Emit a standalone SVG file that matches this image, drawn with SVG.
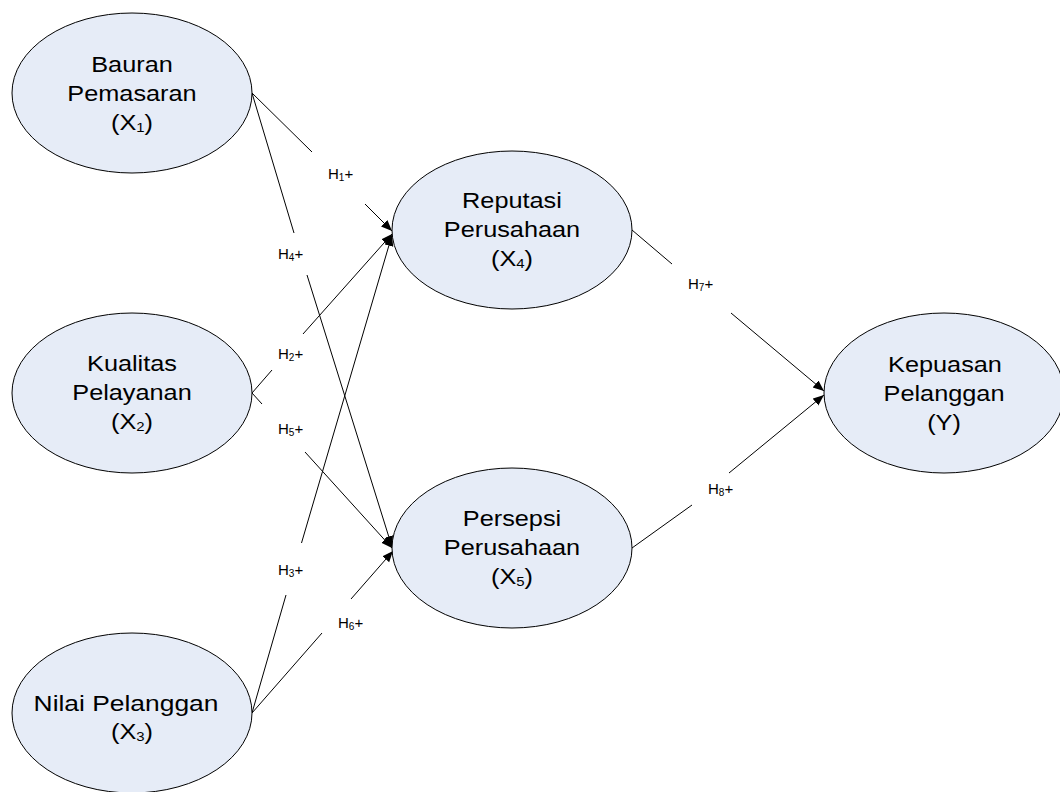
<svg xmlns="http://www.w3.org/2000/svg" width="1060" height="792" viewBox="0 0 1060 792">
<defs>
<style>
.node{fill:#e6ecf7;stroke:#000;stroke-width:1}
.nt{font-family:"Liberation Sans",Arial,sans-serif;font-size:22px;fill:#000;text-anchor:middle}
.lb{font-family:"Liberation Sans",Arial,sans-serif;font-size:15px;fill:#000}
.sub{font-size:13px}
.lsub{font-size:10px}
.conn line{stroke:#000;stroke-width:1;fill:none}
</style>
<marker id="arr" markerUnits="userSpaceOnUse" markerWidth="12" markerHeight="10" refX="11" refY="4.5" orient="auto">
<path d="M0,0 L11,4.5 L0,9 z" fill="#000"/>
</marker>
</defs>
<rect width="1060" height="792" fill="#fff"/>

<g id="connectors" class="conn">
<line x1="252" y1="93" x2="312" y2="152"/>
<line x1="365" y1="204" x2="392" y2="231" marker-end="url(#arr)"/>
<line x1="252" y1="93" x2="294" y2="233"/>
<line x1="307" y1="275" x2="392" y2="547" marker-end="url(#arr)"/>
<line x1="252" y1="393" x2="272" y2="370"/>
<line x1="303" y1="334" x2="392" y2="234" marker-end="url(#arr)"/>
<line x1="252" y1="393" x2="262" y2="404"/>
<line x1="305" y1="452" x2="392" y2="548" marker-end="url(#arr)"/>
<line x1="252" y1="713" x2="286" y2="595"/>
<line x1="301.5" y1="543" x2="392" y2="235" marker-end="url(#arr)"/>
<line x1="252" y1="713" x2="322" y2="633"/>
<line x1="351" y1="599" x2="393" y2="551" marker-end="url(#arr)"/>
<line x1="632" y1="230" x2="672" y2="264"/>
<line x1="731" y1="313" x2="824" y2="391" marker-end="url(#arr)"/>
<line x1="632" y1="548" x2="692" y2="505"/>
<line x1="729" y1="473" x2="824" y2="395" marker-end="url(#arr)"/>
</g>

<g id="labels">
<text class="lb" x="328" y="179">H<tspan class="lsub" dy="2">1</tspan><tspan dy="-2">+</tspan></text>
<text class="lb" x="278" y="259">H<tspan class="lsub" dy="2">4</tspan><tspan dy="-2">+</tspan></text>
<text class="lb" x="278" y="359">H<tspan class="lsub" dy="2">2</tspan><tspan dy="-2">+</tspan></text>
<text class="lb" x="278" y="434">H<tspan class="lsub" dy="2">5</tspan><tspan dy="-2">+</tspan></text>
<text class="lb" x="278" y="575">H<tspan class="lsub" dy="2">3</tspan><tspan dy="-2">+</tspan></text>
<text class="lb" x="338" y="628">H<tspan class="lsub" dy="2">6</tspan><tspan dy="-2">+</tspan></text>
<text class="lb" x="688" y="289">H<tspan class="lsub" dy="2">7</tspan><tspan dy="-2">+</tspan></text>
<text class="lb" x="708" y="494">H<tspan class="lsub" dy="2">8</tspan><tspan dy="-2">+</tspan></text>
</g>

<g id="node-x1">
<ellipse class="node" cx="132" cy="93" rx="120" ry="80"/>
<text class="nt" transform="translate(132,72) scale(1.15,1)">Bauran</text>
<text class="nt" transform="translate(132,101) scale(1.15,1)">Pemasaran</text>
<text class="nt" transform="translate(132,130) scale(1.15,1)">(X<tspan class="sub" dy="2">1</tspan><tspan dy="-2">)</tspan></text>
</g>

<g id="node-x2">
<ellipse class="node" cx="132" cy="393" rx="120" ry="80"/>
<text class="nt" transform="translate(132,371) scale(1.15,1)">Kualitas</text>
<text class="nt" transform="translate(132,400) scale(1.15,1)">Pelayanan</text>
<text class="nt" transform="translate(132,429) scale(1.15,1)">(X<tspan class="sub" dy="2">2</tspan><tspan dy="-2">)</tspan></text>
</g>

<g id="node-x3">
<ellipse class="node" cx="132" cy="713" rx="120" ry="80"/>
<text class="nt" transform="translate(126,711) scale(1.2,1)">Nilai Pelanggan</text>
<text class="nt" transform="translate(132,739) scale(1.15,1)">(X<tspan class="sub" dy="2">3</tspan><tspan dy="-2">)</tspan></text>
</g>

<g id="node-x4">
<ellipse class="node" cx="512" cy="230" rx="120" ry="79"/>
<text class="nt" transform="translate(512,208) scale(1.15,1)">Reputasi</text>
<text class="nt" transform="translate(512,237) scale(1.15,1)">Perusahaan</text>
<text class="nt" transform="translate(512,266) scale(1.15,1)">(X<tspan class="sub" dy="2">4</tspan><tspan dy="-2">)</tspan></text>
</g>

<g id="node-x5">
<ellipse class="node" cx="512" cy="548" rx="120" ry="80"/>
<text class="nt" transform="translate(512,526) scale(1.15,1)">Persepsi</text>
<text class="nt" transform="translate(512,555) scale(1.15,1)">Perusahaan</text>
<text class="nt" transform="translate(512,584) scale(1.15,1)">(X<tspan class="sub" dy="2">5</tspan><tspan dy="-2">)</tspan></text>
</g>

<g id="node-y">
<ellipse class="node" cx="944" cy="393" rx="120" ry="80"/>
<text class="nt" transform="translate(945,372) scale(1.15,1)">Kepuasan</text>
<text class="nt" transform="translate(944,401) scale(1.15,1)">Pelanggan</text>
<text class="nt" transform="translate(944,430) scale(1.15,1)">(Y)</text>
</g>
</svg>
